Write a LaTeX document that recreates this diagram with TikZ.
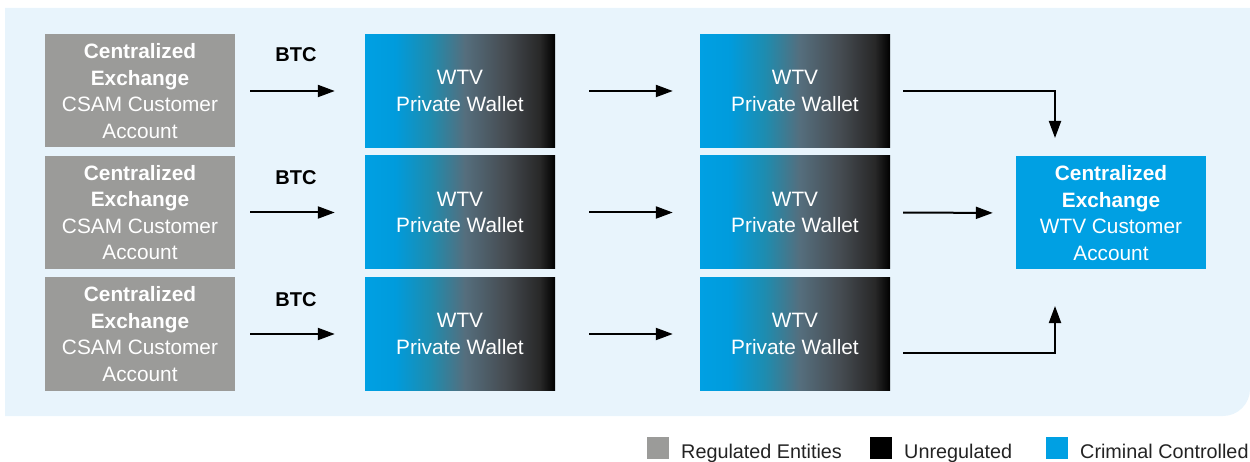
\documentclass[tikz,border=0pt]{standalone}
\usepackage{fontspec}
\setmainfont{Liberation Sans}
\usetikzlibrary{arrows.meta}

\definecolor{panelbg}{RGB}{232,244,252}
\definecolor{reggray}{RGB}{155,155,153}
\definecolor{crimblue}{RGB}{0,160,227}
\definecolor{legtext}{RGB}{35,35,35}

% blue-to-black fade used for the private wallets (box spans 25bp..75bp)
\pgfdeclarehorizontalshading{walletfade}{100bp}{%
  color(0bp)=(crimblue);
  color(25bp)=(crimblue);
  color(32.9bp)=(crimblue!97!black);
  color(42.1bp)=(rgb,255:red,30;green,140;blue,175);
  color(51.3bp)=(rgb,255:red,85;green,110;blue,125);
  color(61.8bp)=(rgb,255:red,70;green,76;blue,82);
  color(71bp)=(rgb,255:red,40;green,40;blue,40);
  color(75bp)=(black);
  color(100bp)=(black)}

\tikzset{
  box/.style={minimum width=190pt, minimum height=113pt, inner sep=0pt,
    align=center, text=white, font=\fontsize{20.8}{26.5}\selectfont},
  regbox/.style={box, fill=reggray},
  walletbox/.style={box, shading=walletfade},
  crimbox/.style={box, fill=crimblue},
  arr/.style={line width=2pt, -{Triangle[length=17pt,width=12pt]}},
  coin/.style={font=\fontsize{20}{24}\selectfont\bfseries, inner sep=0pt},
  legsq/.style={minimum size=22pt, inner sep=0pt},
  legtxt/.style={font=\fontsize{19.8}{22}\selectfont, text=legtext,
    inner sep=0pt, anchor=base west}
}

\begin{document}
\begin{tikzpicture}[x=1pt, y=-1pt]
  \useasboundingbox (0,0) rectangle (1250,462);
  \clip (0,0) rectangle (1250,462);

  % background panel with a rounded lower right corner
  \fill[panelbg] (5,8) -- (1250,8) -- (1250,389)
    arc[start angle=0, end angle=90, radius=27] -- (5,416) -- cycle;

  % source accounts and their wallet chains
  \foreach \r/\y in {a/91, b/212.5, c/334}{
    \node[regbox] (g\r) at (140,\y) {\textbf{Centralized}\\\textbf{Exchange}\\CSAM Customer\\Account};
    \node[walletbox] (w1\r) at (460,\y) {WTV\\Private Wallet};
    \node[walletbox] (w2\r) at (795,\y) {WTV\\Private Wallet};
    \draw[arr, shorten <=15pt, shorten >=30pt] (g\r.east) -- (w1\r.west);
    \draw[arr, shorten <=34pt, shorten >=27pt] (w1\r.east) -- (w2\r.west);
  }

  \node[coin] (btc1) at (296,55) {BTC};
  \node[coin] (btc2) at (296,178) {BTC};
  \node[coin] (btc3) at (296,300) {BTC};

  % destination account
  \node[crimbox] (cex) at (1111,213) {\textbf{Centralized}\\\textbf{Exchange}\\WTV Customer\\Account};

  \coordinate (cin1) at (1055,156);
  \coordinate (cin3) at (1055,270);
  \draw[arr, shorten <=13pt, shorten >=18pt] (w2a.east) -| (cin1);
  \draw[arr, shorten <=13pt, shorten >=23pt] (w2b.east) -- (cex.west);
  \draw[arr, shorten <=13pt, shorten >=36pt] ([yshift=-19pt]w2c.east) -| (cin3);

  % legend
  \node[legsq, fill=reggray] (lg1) at (657.5,448) {};
  \node[legtxt] (lt1) at (681,458) {Regulated Entities};
  \node[legsq, fill=black] (lg2) at (881,448) {};
  \node[legtxt] (lt2) at (904,458) {Unregulated};
  \node[legsq, fill=crimblue] (lg3) at (1057,448) {};
  \node[legtxt] (lt3) at (1080,458) {Criminal Controlled};
\end{tikzpicture}
\end{document}
